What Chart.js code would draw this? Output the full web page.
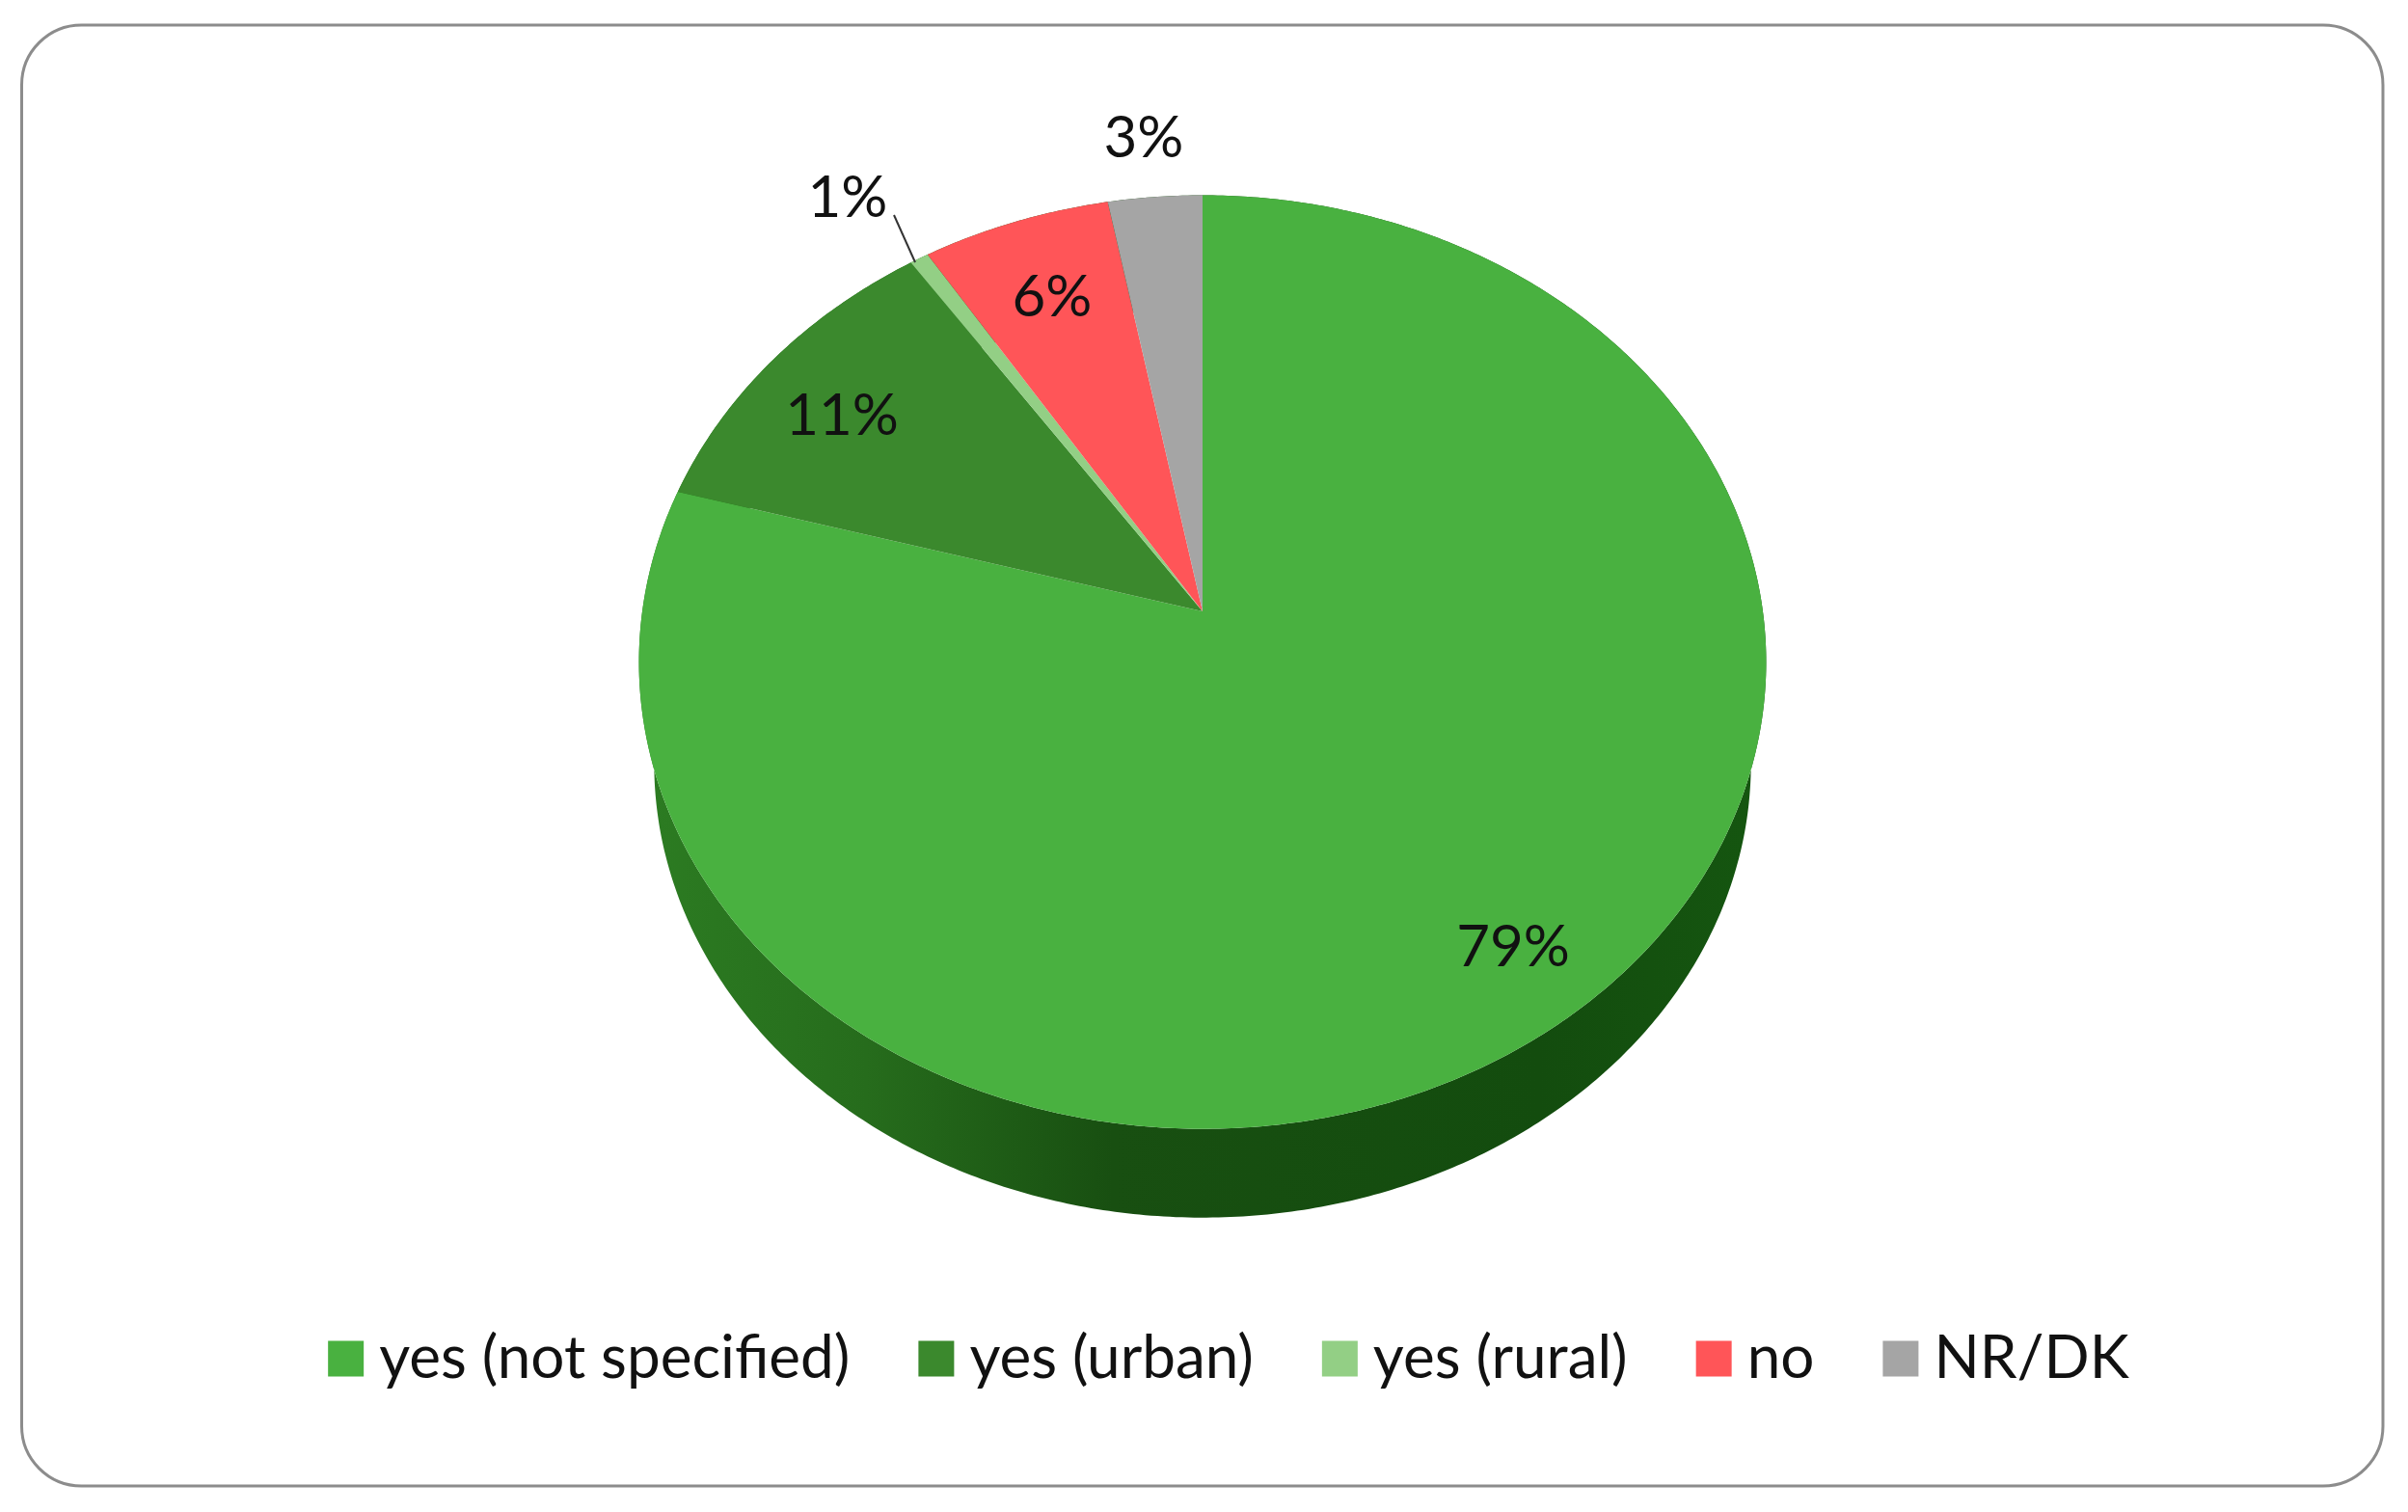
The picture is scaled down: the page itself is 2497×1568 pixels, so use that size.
<!DOCTYPE html>
<html><head><meta charset="utf-8">
<style>html,body{margin:0;padding:0;background:#fff}#wrap{width:2497px;height:1568px}</style>
<script src="https://cdn.jsdelivr.net/npm/chart.js@4"></script>
</head><body><div id="wrap"><canvas id="c" width="2497" height="1568"></canvas></div>
<script>
const categories = ['yes (not specified)', 'yes (urban)', 'yes (rural)', 'no', 'NR/DK'];
const shares = [79.3, 11.1, 0.6, 6, 3];
const sliceColors = ['#49b140', '#3b892d', '#93cf85', '#ff5558', '#a5a5a5'];

// 3D pie view: perspective projection of the unit circle
const VIEW = {x: 1247, y: 634, a: 581, b: 478.4, k: 0.1086, depthY: 740.5, depthScale: 0.973};
const FONT = 'Lato,"Liberation Sans",sans-serif';
const LABEL_AT = [[1569, 983], [873, 432], [879, 206], [1091, 309], [1186, 144]];

function topPoint(t) {
  const u = Math.cos(t), v = Math.sin(t), w = 1 - VIEW.k * v;
  return [VIEW.x + VIEW.a * u / w, VIEW.y + VIEW.b * v / w];
}
function lowPoint(t) {
  const u = Math.cos(t), v = Math.sin(t), w = 1 - VIEW.k * v, s = VIEW.depthScale;
  return [VIEW.x + s * VIEW.a * u / w, VIEW.depthY + s * VIEW.b * v / w];
}
function samples(a, b) {
  const n = Math.max(4, Math.ceil((b - a) / 0.01)), out = [];
  for (let i = 0; i <= n; i++) out.push(a + (b - a) * i / n);
  return out;
}
const pie3d = {
  id: 'pie3d',
  beforeDraw(chart) {
    const ctx = chart.ctx;
    ctx.save();
    ctx.fillStyle = '#fff';
    ctx.fillRect(0, 0, chart.width, chart.height);
    ctx.strokeStyle = '#8c8c8c';
    ctx.lineWidth = 3;
    ctx.beginPath();
    ctx.roundRect(22.5, 26, 2448.5, 1515, 62);
    ctx.stroke();
    ctx.restore();
  },
  beforeDatasetsDraw(chart) {
    const ctx = chart.ctx, meta = chart.getDatasetMeta(0);
    const g = ctx.createLinearGradient(VIEW.x - VIEW.a, 0, VIEW.x + VIEW.a, 0);
    g.addColorStop(0, '#2c7c22');
    g.addColorStop(0.2, '#266c1c');
    g.addColorStop(0.42, '#184f11');
    g.addColorStop(0.8, '#134c0e');
    g.addColorStop(1, '#155610');
    ctx.save();
    ctx.fillStyle = g;
    meta.data.forEach(arc => {
      const ts = samples(arc.startAngle, arc.endAngle);
      ctx.beginPath();
      ts.forEach((t, i) => { const p = topPoint(t); i ? ctx.lineTo(p[0], p[1]) : ctx.moveTo(p[0], p[1]); });
      ts.slice().reverse().forEach(t => { const p = lowPoint(t); ctx.lineTo(p[0], p[1]); });
      ctx.closePath();
      ctx.fill();
    });
    ctx.restore();
    meta.data.forEach(arc => {
      arc.draw = function (c) {
        c.save();
        c.fillStyle = this.options.backgroundColor;
        c.beginPath();
        c.moveTo(VIEW.x, VIEW.y);
        samples(this.startAngle, this.endAngle).forEach(t => { const p = topPoint(t); c.lineTo(p[0], p[1]); });
        c.closePath();
        c.fill();
        c.restore();
      };
    });
  },
  afterDatasetsDraw(chart) {
    const ctx = chart.ctx;
    ctx.save();
    ctx.strokeStyle = '#333';
    ctx.lineWidth = 2;
    ctx.beginPath();
    ctx.moveTo(927, 223);
    ctx.lineTo(949, 272);
    ctx.stroke();
    ctx.fillStyle = '#111';
    ctx.font = '60px ' + FONT;
    ctx.textAlign = 'center';
    ctx.textBaseline = 'middle';
    shares.forEach((v, i) => ctx.fillText(Math.round(v) + '%', LABEL_AT[i][0], LABEL_AT[i][1]));
    ctx.restore();
  }
};

new Chart(document.getElementById('c'), {
  type: 'pie',
  data: {labels: categories, datasets: [{data: shares, backgroundColor: sliceColors, borderWidth: 0}]},
  options: {
    responsive: false,
    animation: false,
    layout: {padding: {left: 66, bottom: 118}},
    plugins: {
      tooltip: {enabled: false},
      legend: {
        position: 'bottom',
        labels: {
          boxWidth: 7, boxHeight: 7, padding: 86, color: '#111',
          font: {family: FONT, size: 62},
          generateLabels: () => categories.map((text, i) => ({
            text, index: i, fillStyle: sliceColors[i], strokeStyle: sliceColors[i], lineWidth: 30, fontColor: '#111', hidden: false
          }))
        }
      }
    }
  },
  plugins: [pie3d]
});
</script></body></html>
